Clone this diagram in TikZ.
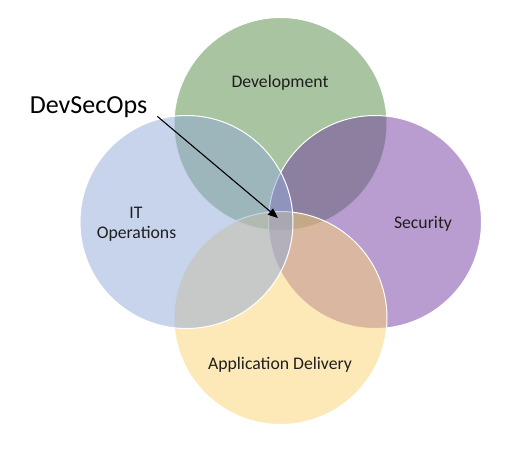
\documentclass[tikz,border=0pt]{standalone}
\usepackage{fontspec}
\setmainfont{Carlito}
\usetikzlibrary{arrows.meta}
\definecolor{devc}{RGB}{83,137,65}
\definecolor{itc}{RGB}{143,169,217}
\definecolor{secc}{RGB}{115,59,161}
\definecolor{appc}{RGB}{251,211,113}
\begin{document}
\begin{tikzpicture}[x=1pt,y=-1pt,
  venn/.style={circle, inner sep=0pt, minimum size=213pt, fill opacity=0.5, draw=white, line width=1pt},
  lbl/.style={font=\fontsize{17.7}{21}\selectfont, text=black!88, anchor=base, inner sep=0pt},
  pointer/.style={line width=1.1pt, -{Triangle[length=10pt,width=8pt]}}]
\useasboundingbox (0,0) rectangle (532,448);
\node[venn, fill=devc] (dev) at (280.5,124) {};
\node[venn, fill=secc] (sec) at (375,222) {};
\node[venn, fill=appc] (app) at (280.5,318) {};
\node[venn, fill=itc] (it) at (186.5,222) {};
\node[lbl] (devl) at (280,87) {Development};
\node[lbl] (itl) at (136,218) {IT};
\node[lbl] (opl) at (136.5,238) {Operations};
\node[lbl] (secl) at (423,228) {Security};
\node[lbl] (appl) at (280,369) {Application Delivery};
\node[lbl, font=\fontsize{26}{30}\selectfont, text=black] (dso) at (88.5,113) {DevSecOps};
\coordinate (tip) at (278,218);
\draw[pointer] ([xshift=10pt,yshift=1pt]dso.south east) -- (tip);
\end{tikzpicture}
\end{document}
